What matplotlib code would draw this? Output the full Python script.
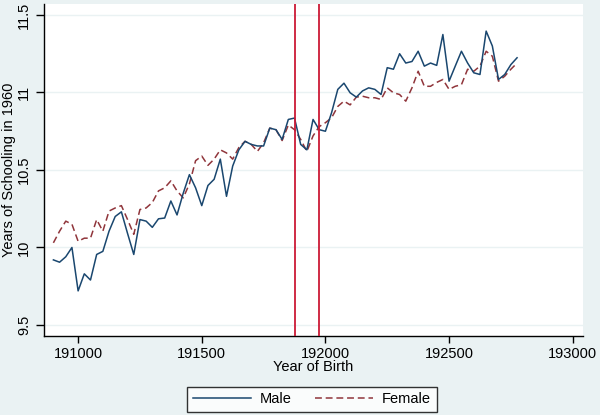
import numpy as np
import matplotlib
matplotlib.use('Agg')
import matplotlib.pyplot as plt

plt.rcParams['font.family'] = ['Liberation Sans', 'DejaVu Sans']

# quarterly birth cohorts, coded year*100
birth = np.arange(190900, 192800, 25)

male = [9.92, 9.905, 9.94, 10.0, 9.72, 9.83, 9.79, 9.955, 9.975, 10.105,
        10.2, 10.23, 10.09, 9.955, 10.18, 10.17, 10.13, 10.185, 10.19, 10.3,
        10.21, 10.35, 10.47, 10.385, 10.27, 10.4, 10.44, 10.57, 10.33, 10.525,
        10.63, 10.685, 10.665, 10.655, 10.655, 10.77, 10.76, 10.697, 10.826, 10.835,
        10.665, 10.63, 10.826, 10.76, 10.75, 10.87, 11.02, 11.06, 10.998, 10.97,
        11.01, 11.03, 11.02, 10.987, 11.16, 11.15, 11.25, 11.19, 11.2, 11.266,
        11.17, 11.19, 11.175, 11.374, 11.073, 11.17, 11.266, 11.19, 11.127, 11.116,
        11.396, 11.3, 11.084, 11.116, 11.18, 11.224]

female = [10.03, 10.105, 10.17, 10.15, 10.04, 10.06, 10.06, 10.18, 10.105, 10.235,
          10.255, 10.27, 10.18, 10.085, 10.245, 10.255, 10.29, 10.365, 10.385, 10.43,
          10.365, 10.32, 10.41, 10.56, 10.59, 10.53, 10.57, 10.63, 10.61, 10.57,
          10.645, 10.685, 10.665, 10.62, 10.675, 10.77, 10.76, 10.69, 10.79, 10.76,
          10.697, 10.62, 10.72, 10.78, 10.805, 10.837, 10.91, 10.944, 10.92, 10.97,
          10.976, 10.966, 10.966, 10.955, 11.03, 10.998, 10.987, 10.944, 11.03, 11.137,
          11.04, 11.04, 11.065, 11.084, 11.02, 11.04, 11.05, 11.15, 11.137, 11.17,
          11.266, 11.234, 11.073, 11.105, 11.15, 11.19]

cutoffs = [191875, 191975]

xticks = [191000, 191500, 192000, 192500, 193000]
yticks = [9.5, 10, 10.5, 11, 11.5]

bg = '#eaf2f3'
fig = plt.figure(figsize=(6, 4.15), dpi=100, facecolor=bg)
ax = fig.add_axes([0.0725, 0.1904, 0.8985, 0.80])
ax.set_facecolor('white')

for yv in yticks:
    ax.axhline(yv, color=bg, lw=1.0, zorder=0)

ax.plot(birth, male, color='#1a476f', lw=1.1, label='Male', zorder=3)
ax.plot(birth, female, color='#90353b', lw=1.1, ls=(0, (4.5, 2.5)), label='Female', zorder=2)
for c in cutoffs:
    ax.axvline(c, color='#cc1a36', lw=1.3, zorder=4)

ax.set_xlim(190860, 193040)
ax.set_ylim(9.429, 11.571)
ax.set_xticks(xticks)
ax.set_xticklabels([str(v) for v in xticks], fontsize=10.5)
ax.set_yticks(yticks)
ax.set_yticklabels(['9.5', '10', '10.5', '11', '11.5'], fontsize=10.5,
                   rotation=90, va='center')
ax.tick_params(axis='x', length=5, width=1, color='black', pad=3)
ax.tick_params(axis='y', length=6, width=1, color='black', pad=3)

for s in ['top', 'right']:
    ax.spines[s].set_visible(False)
for s in ['left', 'bottom']:
    ax.spines[s].set_linewidth(1.0)
    ax.spines[s].set_color('black')

ax.set_xlabel('Year of Birth', fontsize=10.5, labelpad=-1)
ax.set_ylabel('Years of Schooling in 1960', fontsize=10.5, labelpad=1)

leg = fig.legend(loc='center', bbox_to_anchor=(0.52, 0.0375), ncol=2,
                 fontsize=10.5, frameon=True, fancybox=False, edgecolor='black',
                 handlelength=4, handletextpad=0.6, columnspacing=1.6,
                 borderpad=0.4)
leg.get_frame().set_linewidth(1.0)

fig.savefig('out.png', dpi=100, facecolor=bg)
